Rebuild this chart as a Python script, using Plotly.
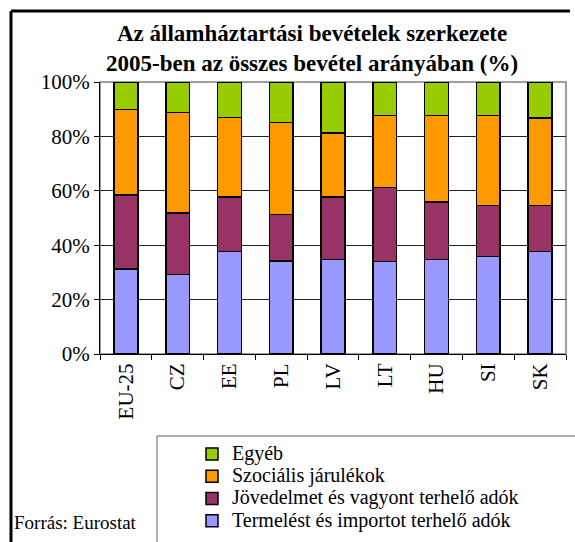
import plotly.graph_objects as go

categories = ["EU-25", "CZ", "EE", "PL", "LV", "LT", "HU", "SI", "SK"]
termelest = [31.2, 29.2, 37.7, 34.2, 34.8, 34.1, 34.8, 35.8, 37.7]
jovedelmet = [27.3, 22.7, 20.0, 17.0, 22.9, 27.2, 21.0, 18.8, 16.9]
szocialis = [31.3, 36.9, 29.2, 34.0, 23.5, 26.4, 31.9, 33.1, 32.1]
egyeb = [10.2, 11.2, 13.1, 14.8, 18.8, 12.3, 12.3, 12.3, 13.3]
series_names = ["Termelést és importot terhelő adók", "Jövedelmet és vagyont terhelő adók",
                "Szociális járulékok", "Egyéb"]
series_values = [termelest, jovedelmet, szocialis, egyeb]
colors = ["#9999FF", "#993366", "#FF9900", "#99CC00"]
y_ticks = [0, 20, 40, 60, 80, 100]
y_tick_labels = ["0%", "20%", "40%", "60%", "80%", "100%"]

FONT = "Liberation Serif"
W, H = 575, 542
L, R, T, B = 100, 566, 82, 354


def px(x):
    return (x - L) / (R - L)


def py(y):
    return (B - y) / (B - T)


fig = go.Figure()
for name, vals, col in zip(series_names, series_values, colors):
    fig.add_trace(go.Bar(x=categories, y=vals,
                         name='<span style="font-size:20px">' + name + '</span>',
                         marker=dict(color=col, line=dict(color="black", width=1.5))))

fig.update_layout(
    template="none",
    width=W, height=H,
    barmode="stack", barnorm="percent", bargap=0.54,
    margin=dict(l=L, r=W - R, t=T, b=H - B, pad=0, autoexpand=False),
    paper_bgcolor="white", plot_bgcolor="white",
    font=dict(family=FONT, size=21, color="black"),
    showlegend=True,
    legend=dict(traceorder="reversed", x=px(192), y=py(438), xanchor="left", yanchor="top",
                bgcolor="rgba(0,0,0,0)", borderwidth=0, font=dict(family=FONT, size=14.8),
                tracegroupgap=0, itemwidth=30),
    xaxis=dict(showline=True, linecolor="black", linewidth=1, ticks="outside", ticklen=5,
               tickcolor="black", tickson="boundaries", tickangle=-90, showgrid=False,
               automargin=False, tickfont=dict(family=FONT, size=21)),
    yaxis=dict(range=[0, 100], tickvals=y_ticks, ticktext=y_tick_labels, showline=True,
               linecolor="black", linewidth=1, ticks="outside", ticklen=5, tickcolor="black",
               showgrid=True, gridcolor="#222222", gridwidth=1, zeroline=False,
               automargin=False, tickfont=dict(family=FONT, size=21)),
    annotations=[
        dict(text="<b>Az államháztartási bevételek szerkezete</b>", x=px(312), y=py(34),
             xref="paper", yref="paper", showarrow=False, xanchor="center", yanchor="middle",
             font=dict(family=FONT, size=23)),
        dict(text="<b>2005-ben az összes bevétel arányában (%)</b>", x=px(312), y=py(63),
             xref="paper", yref="paper", showarrow=False, xanchor="center", yanchor="middle",
             font=dict(family=FONT, size=23)),
        dict(text="Forrás: Eurostat", x=px(12), y=py(522), xref="paper", yref="paper",
             showarrow=False, xanchor="left", yanchor="middle", font=dict(family=FONT, size=19)),
    ],
    shapes=[
        dict(type="rect", xref="paper", yref="paper", x0=0, x1=1, y0=0, y1=1,
             line=dict(color="#808080", width=1.5), layer="below"),
        dict(type="rect", xref="paper", yref="paper", x0=px(157), x1=px(600), y0=py(436), y1=py(600),
             line=dict(color="#606060", width=1), fillcolor="rgba(0,0,0,0)", layer="below"),
        dict(type="line", xref="paper", yref="paper", x0=px(11), x1=px(570), y0=py(11), y1=py(11),
             line=dict(color="black", width=3)),
        dict(type="line", xref="paper", yref="paper", x0=px(11), x1=px(11), y0=py(11), y1=py(560),
             line=dict(color="black", width=3)),
    ],
)

fig.write_html("out.html", config={"displayModeBar": False},
               post_script="document.body.style.margin='0';")
